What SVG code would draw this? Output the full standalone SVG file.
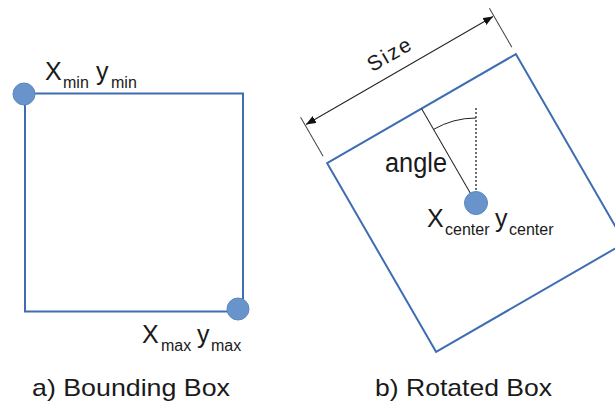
<svg xmlns="http://www.w3.org/2000/svg" width="615" height="403" viewBox="0 0 615 403">
<defs>
<style>
.box{fill:none;stroke:#3f6db3;stroke-width:2}
.pt{fill:#6994cb;stroke:#5b87c2;stroke-width:1}
.t{font-family:"Liberation Sans",Arial,sans-serif;fill:#1a1a1a}
.big{font-size:25px}
.sub{font-size:16px}
.title{font-size:24px}
.dim{stroke:#222;stroke-width:1;fill:none}
.ext{stroke:#444;stroke-width:1;fill:none}
</style>
<marker id="ah" viewBox="0 0 10 8" refX="10" refY="4" markerWidth="10" markerHeight="8" markerUnits="userSpaceOnUse" orient="auto-start-reverse">
<path d="M0,0 L10,4 L0,8 Z" fill="#111"/>
</marker>
</defs>
<rect width="615" height="403" fill="#fff"/>

<g id="bounding-box">
<rect class="box" x="25" y="93.5" width="218" height="218"/>
</g>
<g id="pt-min">
<circle class="pt" cx="24" cy="94" r="11"/>
<text class="t"><tspan class="big" x="45" y="80">X</tspan><tspan class="sub" x="63" y="88">min</tspan><tspan class="big" x="96" y="80">y</tspan><tspan class="sub" x="111" y="88">min</tspan></text>
</g>
<g id="pt-max">
<circle class="pt" cx="238" cy="309" r="11"/>
<text class="t"><tspan class="big" x="142" y="343">X</tspan><tspan class="sub" x="161" y="351">max</tspan><tspan class="big" x="197" y="343">y</tspan><tspan class="sub" x="211" y="351">max</tspan></text>
</g>

<g id="rotated-box">
<g transform="translate(476,203) rotate(-30)">
<rect class="box" x="-109" y="-109" width="218" height="218"/>
</g>
</g>

<g id="connectors">
<g transform="translate(476,203) rotate(-30)">
<line class="ext" x1="-109" y1="-117" x2="-109" y2="-162"/>
<line class="ext" x1="109" y1="-117" x2="109" y2="-162"/>
<line class="dim" x1="-108" y1="-153" x2="108" y2="-153" marker-start="url(#ah)" marker-end="url(#ah)"/>
<line class="dim" x1="0" y1="-109" x2="0" y2="0"/>
</g>
<line x1="476" y1="108" x2="476" y2="203" stroke="#111" stroke-width="1.2" stroke-dasharray="2,2"/>
<path class="dim" d="M433.5 129.4 A85 85 0 0 1 476 118"/>
</g>

<g id="size-label">
<text class="t" transform="translate(476,203) rotate(-30)" x="0" y="-165" text-anchor="middle" font-size="21" letter-spacing="2">Size</text>
</g>
<g id="angle-label">
<text class="t" x="385" y="172" font-size="27" textLength="62" lengthAdjust="spacingAndGlyphs">angle</text>
</g>
<g id="center">
<circle class="pt" cx="476" cy="203" r="11.5"/>
<text class="t"><tspan class="big" x="427" y="227">X</tspan><tspan class="sub" x="445" y="235">center</tspan><tspan class="big" x="495" y="227">y</tspan><tspan class="sub" x="509" y="235">center</tspan></text>
</g>

<g id="titles">
<text class="t title" x="32" y="396" textLength="198" lengthAdjust="spacingAndGlyphs">a) Bounding Box</text>
<text class="t title" x="375" y="396" textLength="177" lengthAdjust="spacingAndGlyphs">b) Rotated Box</text>
</g>
</svg>
